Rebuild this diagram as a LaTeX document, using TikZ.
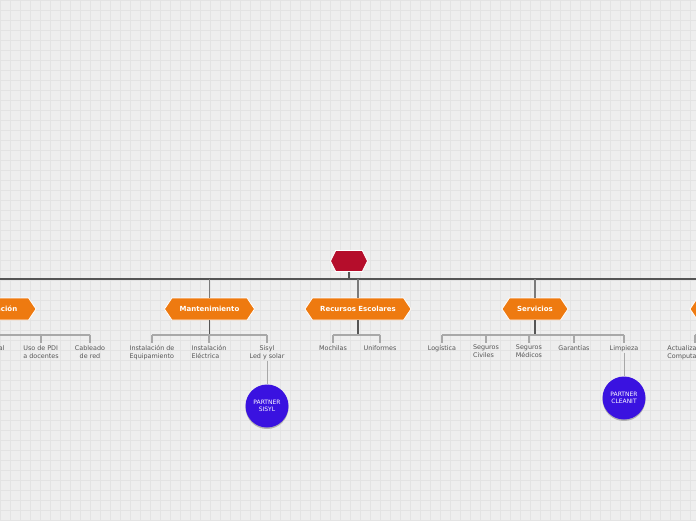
\documentclass[tikz,border=0pt]{standalone}
\usepackage{fontspec}
\setmainfont{DejaVu Sans}
\usetikzlibrary{shapes.symbols}
\definecolor{bg}{HTML}{EEEEEE}
\definecolor{gridc}{HTML}{E3E3E3}
\definecolor{orng}{HTML}{EE7A10}
\definecolor{rootred}{HTML}{B50D2B}
\definecolor{pblue}{HTML}{3A12E0}
\definecolor{barc}{HTML}{555555}
\definecolor{stemc}{HTML}{7A7A7A}
\definecolor{leafline}{HTML}{A8A8A8}
\definecolor{txtc}{HTML}{555555}
\tikzset{
  hexbox/.style={signal, signal to=west and east, signal pointer angle=112,
    fill=orng, draw=white, line width=0.8pt, minimum height=22pt, inner sep=0pt,
    text=white, font=\fontsize{7}{8}\selectfont\bfseries},
  rootbox/.style={signal, signal to=west and east, signal pointer angle=128,
    fill=rootred, draw=white, line width=0.9pt, minimum height=21pt, minimum width=37pt, inner sep=0pt},
  leaf/.style={anchor=north, inner sep=0pt, text=txtc, font=\fontsize{6.4}{8}\selectfont},
  partner/.style={circle, fill=pblue, minimum size=43pt, inner sep=0pt, text=white,
    align=center, font=\fontsize{6}{7.5}\selectfont},
  mainbar/.style={draw=barc, line width=1.6pt},
  stem/.style={draw=stemc, line width=1.5pt},
  substem/.style={draw=barc, line width=1.5pt},
  leafbar/.style={draw=leafline, line width=1.1pt},
}
\begin{document}
\begin{tikzpicture}[x=1pt,y=-1pt]
\useasboundingbox (0,0) rectangle (696,520);
\clip (0,0) rectangle (696,520);
\fill[bg] (0,0) rectangle (696,520);
\draw[gridc, line width=0.7pt] (0,0) grid[step=10pt] (700,520);

% root and main bar
\node[rootbox] (root) at (349,261) {};
\coordinate (barL) at (-20,279);
\coordinate (barR) at (720,279);
\draw[mainbar] (barL) -- (barR);
\draw[substem] (root.south) -- (root.south|-barL);

% main branches
\node[hexbox, minimum width=88pt] (cap) at (-8,309) {Capacitación};
\node[hexbox, minimum width=90pt] (mant) at (209.5,309) {Mantenimiento};
\node[hexbox, minimum width=106pt] (rec) at (358,309) {Recursos Escolares};
\node[hexbox, minimum width=66pt] (serv) at (535,309) {Servicios};
\node[hexbox, minimum width=90pt] (comp) at (735,309) {Computación};

\foreach \n in {cap,mant,rec,serv,comp}{
  \draw[stem] (\n.north|-barL) -- (\n.north);
}

% leaves: Capacitacion
\node[leaf] (l1) at (-14,345) {Aula Digital};
\node[leaf, align=left] (l2) at (41,345) {Uso de PDI\\a docentes};
\node[leaf, align=center] (l3) at (90,345) {Cableado\\de red};
% leaves: Mantenimiento
\node[leaf, align=left] (m1) at (152,345) {Instalación de\\Equipamiento};
\node[leaf, align=left] (m2) at (209,345) {Instalación\\Eléctrica};
\node[leaf, align=center] (m3) at (267,345) {Sisyl\\Led y solar};
% leaves: Recursos
\node[leaf] (r1) at (333,345) {Mochilas};
\node[leaf] (r2) at (380,345) {Uniformes};
% leaves: Servicios
\node[leaf] (s1) at (442,345) {Logística};
\node[leaf, align=left] (s2) at (486,345) {Seguros\\Civiles};
\node[leaf, align=left] (s3) at (529,345) {Seguros\\Médicos};
\node[leaf] (s4) at (574,345) {Garantías};
\node[leaf] (s5) at (624,345) {Limpieza};
% leaves: Computacion
\node[leaf, align=left] (c1) at (691,345) {Actualización\\Computadoras};
\coordinate (c1t) at (695,345);

\coordinate (lb) at (0,335);
% sub stems
\foreach \n in {cap,mant,rec,serv,comp}{
  \draw[substem] (\n.south) -- (\n.south|-lb);
}
% leaf bars
\draw[leafbar] (l1.north|-lb) -- (l3.north|-lb);
\draw[leafbar] (m1.north|-lb) -- (m3.north|-lb);
\draw[leafbar] (r1.north|-lb) -- (r2.north|-lb);
\draw[leafbar] (s1.north|-lb) -- (s5.north|-lb);
\draw[leafbar] (c1t|-lb) -- ++(40,0);
\foreach \n in {l1,l2,l3,m1,m2,m3,r1,r2,s1,s2,s3,s4,s5,c1t}{
  \draw[leafbar] (\n|-lb) -- ([yshift=2.5pt]\n|-c1t);
}

% partners
\fill[black!30] (267,407.5) circle (21.5pt);
\node[partner] (p1) at (267,406) {PARTNER\\SISYL};
\fill[black!30] (624,399.5) circle (21.5pt);
\node[partner] (p2) at (624,398) {PARTNER\\CLEANIT};
\draw[leafline, line width=0.9pt] ([yshift=-1pt]m3.south) -- (p1.north);
\draw[leafline, line width=0.9pt] ([yshift=-1pt]s5.south) -- (p2.north);
\end{tikzpicture}
\end{document}
